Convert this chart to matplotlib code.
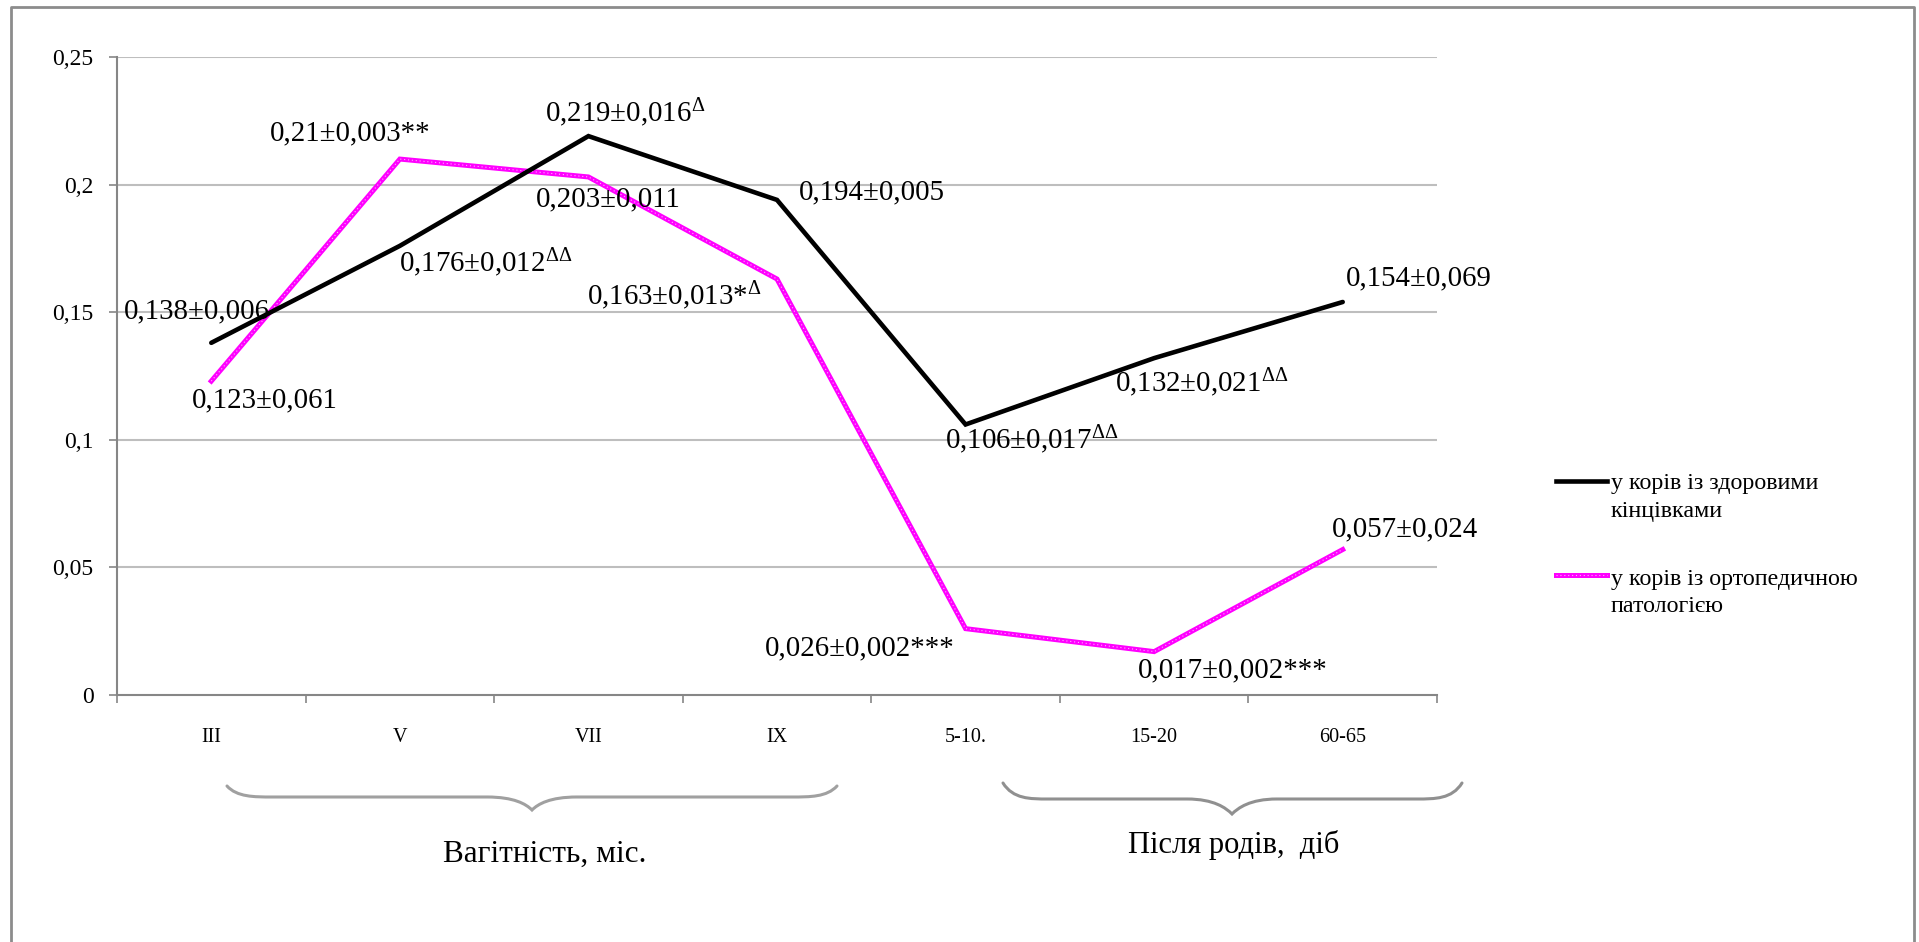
import matplotlib
matplotlib.use("Agg")
import matplotlib.pyplot as plt
from matplotlib.path import Path
from matplotlib.patches import PathPatch
from matplotlib.ticker import FixedLocator, NullFormatter

plt.rcParams['font.family'] = ['Liberation Serif', 'DejaVu Serif']
plt.rcParams['mathtext.default'] = 'regular'

# ---- data ----
categories = ["III", "V", "VII", "IX", "5-10.", "15-20", "60-65"]
healthy = [0.138, 0.176, 0.219, 0.194, 0.106, 0.132, 0.154]
ortho = [0.123, 0.21, 0.203, 0.163, 0.026, 0.017, 0.057]
healthy_labels = ["0,138±0,006", "0,176±0,012$^{ΔΔ}$", "0,219±0,016$^{Δ}$",
                  "0,194±0,005", "0,106±0,017$^{ΔΔ}$", "0,132±0,021$^{ΔΔ}$",
                  "0,154±0,069"]
ortho_labels = ["0,123±0,061", "0,21±0,003**", "0,203±0,011",
                "0,163±0,013*$^{Δ}$", "0,026±0,002***", "0,017±0,002***",
                "0,057±0,024"]
yticks = [0, 0.05, 0.1, 0.15, 0.2, 0.25]
ytick_labels = ["0", "0,05", "0,1", "0,15", "0,2", "0,25"]
legend_labels = [["у корів із здоровими", "кінцівками"],
                 ["у корів із ортопедичною", "патологією"]]
group_labels = ["Вагітність, міс.", "Після родів,  діб"]

# label offsets (pixels) from each point, left-aligned text
healthy_off = [(-87, 31), (-1, -17), (-43, 23), (22, 8), (-21, -15), (-39, -24), (3, 24)]
ortho_off = [(-19, -19), (-130, 26), (-53, -22), (-190, -17), (-201, -20), (-16, -19), (-11, 20)]

W, H = 1919, 942
fig = plt.figure(figsize=(W / 100, H / 100), dpi=100)

# overlay in pixel coordinates for frame, braces and legend
ov = fig.add_axes([0, 0, 1, 1], zorder=0)
ov.set_xlim(0, W)
ov.set_ylim(H, 0)
ov.axis('off')

ax = fig.add_axes([117 / W, 1 - 695 / H, (1437 - 117) / W, (695 - 57) / H], zorder=1)
ax.patch.set_alpha(0)

x = list(range(len(categories)))
ax.set_xlim(-0.5, len(categories) - 0.5)
ax.set_ylim(0, 0.25)

for v in yticks[1:]:
    ax.axhline(v, color='#BEBEBE', lw=1.5, zorder=0)

ax.plot(x, healthy, color='black', lw=3.3, solid_capstyle='round',
        solid_joinstyle='miter', zorder=3)
ax.plot(x, ortho, color='#FF00FF', lw=3.6, solid_joinstyle='miter', zorder=2)
ax.plot(x, ortho, color='#FFB0FF', lw=0.8, ls=(0, (1, 2.5)), zorder=2)

for i in x:
    ax.annotate(healthy_labels[i], xy=(i, healthy[i]), xytext=healthy_off[i],
                textcoords='offset pixels', ha='left', va='center', fontsize=20.8, zorder=5)
    ax.annotate(ortho_labels[i], xy=(i, ortho[i]), xytext=ortho_off[i],
                textcoords='offset pixels', ha='left', va='center', fontsize=20.8, zorder=5)

for s in ['top', 'right']:
    ax.spines[s].set_visible(False)
for s in ['left', 'bottom']:
    ax.spines[s].set_color('#868686')
    ax.spines[s].set_linewidth(1.5)

ax.set_yticks(yticks)
ax.set_yticklabels(ytick_labels, fontsize=17)
ax.tick_params(axis='y', length=6, width=1.2, color='#868686', pad=11)
ax.set_xticks(x)
ax.set_xticklabels(categories, fontsize=14.5)
ax.tick_params(axis='x', which='major', length=0, pad=24)
ax.xaxis.set_minor_locator(FixedLocator([i - 0.5 for i in range(len(categories) + 1)]))
ax.xaxis.set_minor_formatter(NullFormatter())
ax.tick_params(axis='x', which='minor', length=6, width=1.2, color='#868686')

# outer frame (top and sides)
ov.plot([11, 11, 1914, 1914], [H, 7, 7, H], color='#8C8C8C', lw=2)


def brace(x0, x1, xt, y_end, y_flat, y_tip, color):
    k = 45
    verts = [(x0, y_end), (x0 + 10, y_flat), (x0 + k * 0.6, y_flat), (x0 + k, y_flat),
             (xt - k, y_flat),
             (xt - k * 0.4, y_flat), (xt - 6, y_tip - 6), (xt, y_tip),
             (xt + 6, y_tip - 6), (xt + k * 0.4, y_flat), (xt + k, y_flat),
             (x1 - k, y_flat),
             (x1 - k * 0.6, y_flat), (x1 - 10, y_flat), (x1, y_end)]
    codes = [Path.MOVETO, Path.CURVE4, Path.CURVE4, Path.CURVE4,
             Path.LINETO,
             Path.CURVE4, Path.CURVE4, Path.CURVE4,
             Path.CURVE4, Path.CURVE4, Path.CURVE4,
             Path.LINETO,
             Path.CURVE4, Path.CURVE4, Path.CURVE4]
    ov.add_patch(PathPatch(Path(verts, codes), fill=False, edgecolor=color, lw=2.2,
                           capstyle='round'))


brace(227, 837, 532, 786, 797, 810, '#A0A0A0')
brace(1003, 1462, 1232, 783, 799, 814, '#909090')

ov.text(545, 854, group_labels[0], ha='center', va='center', fontsize=22.5)
ov.text(1234, 845, group_labels[1], ha='center', va='center', fontsize=22)

# legend
ov.plot([1556, 1607], [481, 481], color='black', lw=3.3)
ov.plot([1556, 1607], [575, 575], color='#FF00FF', lw=3.6)
ov.plot([1556, 1607], [575, 575], color='#FFB0FF', lw=0.8, ls=(0, (1, 2.5)))
ov.text(1611, 483, legend_labels[0][0], ha='left', va='center', fontsize=17.3)
ov.text(1611, 511, legend_labels[0][1], ha='left', va='center', fontsize=17.3)
ov.text(1611, 580, legend_labels[1][0], ha='left', va='center', fontsize=17.3)
ov.text(1611, 607, legend_labels[1][1], ha='left', va='center', fontsize=17.3)

fig.savefig("out.png", dpi=100, facecolor='white')
